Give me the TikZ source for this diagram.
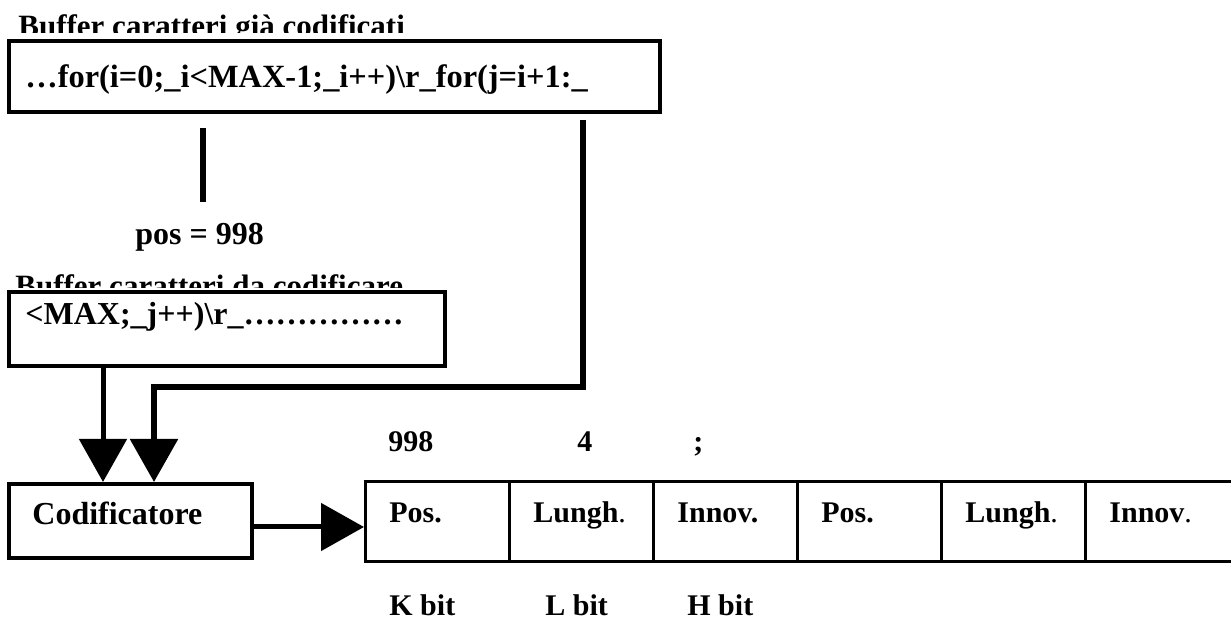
\documentclass[tikz,border=0pt]{standalone}
\usepackage{fontspec}
\setmainfont{Liberation Serif}
\usetikzlibrary{arrows.meta, calc}

\begin{document}
\begin{tikzpicture}[x=0.5pt, y=-0.5pt,
    box/.style={draw, line width=2pt, fill=white, inner sep=0pt, anchor=north west},
    cellbox/.style={draw, line width=1.6pt, inner sep=0pt, anchor=north west, minimum height=40pt},
    txt/.style={anchor=base west, inner sep=0pt, font=\fontsize{16}{19}\selectfont\bfseries},
    ttl/.style={txt, font=\fontsize{15.5}{18}\selectfont\bfseries},
    celltext/.style={txt, font=\fontsize{15}{18}\selectfont\bfseries},
    bigarrow/.style={line width=2.5pt, -{Triangle[length=21.5pt, width=23.5pt]}}]

  \useasboundingbox (0,0) rectangle (1231,619);

  % --- Buffer of already coded chars ---
  \begin{scope}
    \clip (0,0) rectangle (700,33);
    \node[ttl] (ttlold) at (18,37) {Buffer caratteri già codificati};
  \end{scope}
  \node[box, minimum width=325.5pt, minimum height=35.5pt] (bufold) at (7,39) {};
  \node[txt, font=\fontsize{16.2}{19}\selectfont\bfseries] (oldtxt) at (25,88)
    {…for(i=0;\_i<MAX-1;\_i++)\textbackslash r\_for(j=i+1:\_};

  % pointer to the current position
  \coordinate (ptr) at (203,128);
  \draw[line width=3.2pt] (ptr) -- ++(0,74);
  \node[txt] (pos) at (135,245) {pos = 998};

  % --- Buffer of chars still to code ---
  \begin{scope}
    \clip (0,250) rectangle (500,288);
    \node[ttl] (ttlnew) at (15,297) {Buffer caratteri da codificare};
  \end{scope}
  \node[box, minimum width=218pt, minimum height=37pt] (bufnew) at (7,290) {};
  \node[txt] (newtxt) at (25,325) {<MAX;\_j++)\textbackslash r\_……………};

  % --- Encoder ---
  \node[box, minimum width=121.5pt, minimum height=37pt] (cod) at (7,482) {};
  \node[txt] (codtxt) at (32,525) {Codificatore};

  % --- Output tokens ---
  \foreach \lab [count=\i] in {Pos.,{Lungh\textmd{.}},Innov.,Pos.,{Lungh\textmd{.}},{Innov\textmd{.}}} {
    \pgfmathsetmacro{\cx}{364+144*(\i-1)}
    \pgfmathsetmacro{\cw}{\i==6 ? 80 : 72}
    \node[cellbox, minimum width=\cw pt] (cell\i) at (\cx,480) {};
    \node[celltext] (lab\i) at (\cx+25,523) {\lab};
  }

  % values of the first token
  \node[celltext] (vpos) at (388,452) {998};
  \node[celltext] (vlen) at (577,452) {4};
  \node[celltext] (vinn) at (693,452) {;};

  % field sizes
  \node[celltext] (kbit) at (389,615) {K bit};
  \node[celltext] (lbit) at (545,615) {L bit};
  \node[celltext] (hbit) at (687,615) {H bit};

  % --- Connectors ---
  \coordinate (inleft) at (103,0);
  \draw[bigarrow] (bufnew.south -| inleft) -- (cod.north -| inleft);

  \coordinate (fbtop) at (583,120);
  \coordinate (fbturn) at (154,387);
  \draw[bigarrow, line width=2.8pt] (fbtop) |- (fbturn) -- (fbturn |- cod.north);

  \coordinate (outlvl) at (0,527);
  \draw[bigarrow] (cod.east |- outlvl) -- (cell1.west |- outlvl);
\end{tikzpicture}
\end{document}
